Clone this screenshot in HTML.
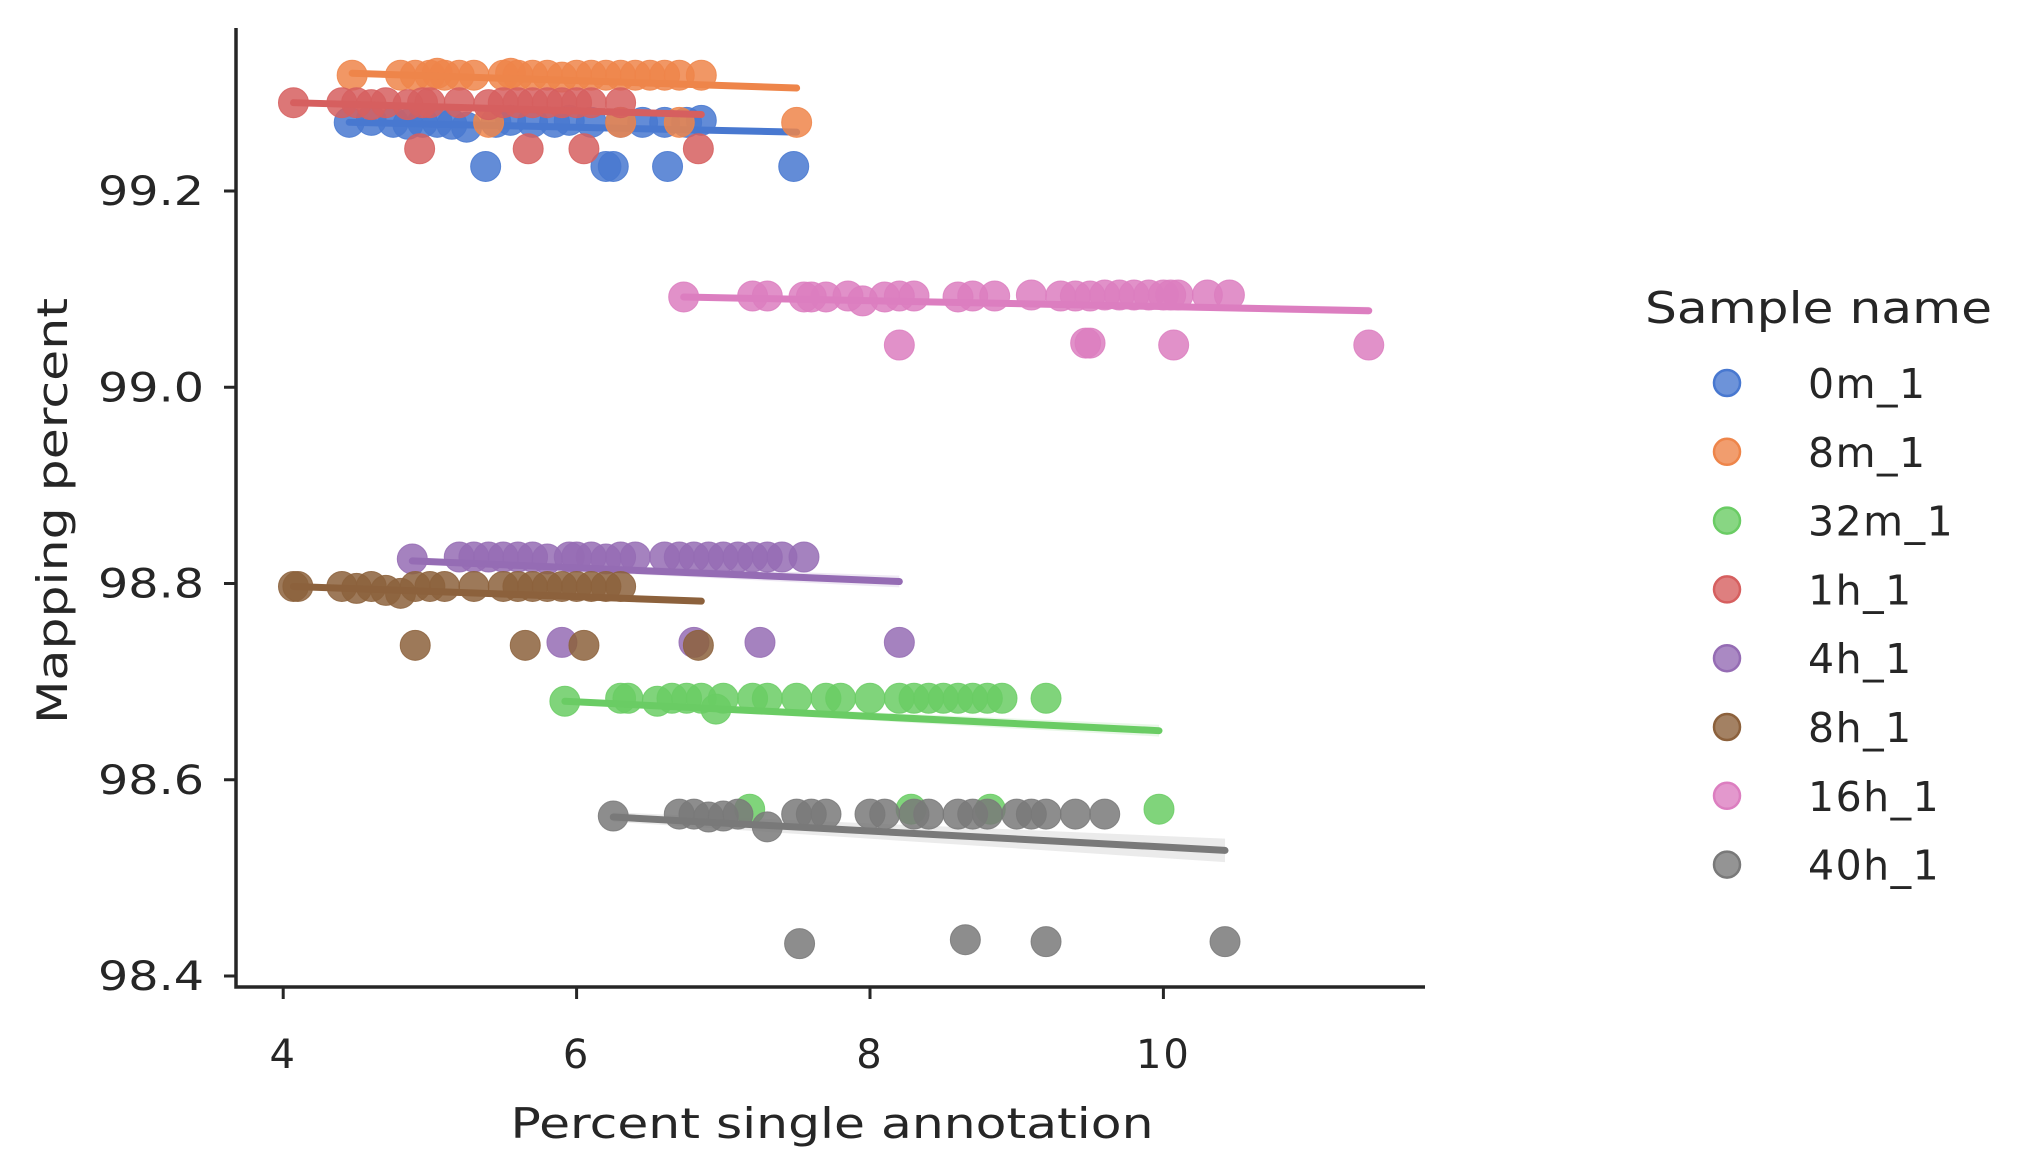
<!DOCTYPE html>
<html><head><meta charset="utf-8"><style>
html,body{margin:0;padding:0;background:#fff;}
svg{display:block;font-family:"DejaVu Sans","Liberation Sans",sans-serif;}
</style></head><body>
<svg id="chart" width="2034" height="1167" viewBox="0 0 2034 1167" xmlns="http://www.w3.org/2000/svg">
<g id="bands"></g>
<g id="marks"></g>
<g id="axes"></g>
<g id="legend"></g>
</svg>
<script>
const seriesNames = ["0m_1","8m_1","32m_1","1h_1","4h_1","8h_1","16h_1","40h_1"];
const seriesColors = ["#4878d0","#ee854a","#6acc64","#d65f5f","#956cb4","#8c613c","#dc7ec0","#797979"];
const xTicks = [4,6,8,10];
const yTicks = [98.4,98.6,98.8,99.0,99.2];
const yTickLabels = ["98.4","98.6","98.8","99.0","99.2"];

const x_0m = [4.45,4.6,4.75,4.85,4.95,5.05,5.15,5.25,5.45,5.55,5.7,5.85,5.95,6.1,6.3,6.45,6.6,6.75,6.85,5.38,6.2,6.25,6.62,7.48];
const y_0m = [99.27,99.272,99.27,99.268,99.27,99.27,99.268,99.265,99.27,99.272,99.27,99.27,99.272,99.27,99.27,99.27,99.27,99.27,99.272,99.225,99.225,99.225,99.225,99.225];
const x_8m = [4.47,4.8,4.9,5.0,5.05,5.1,5.2,5.3,5.5,5.55,5.6,5.7,5.8,5.9,6.0,6.1,6.2,6.3,6.4,6.5,6.6,6.7,6.85,5.4,6.3,6.7,7.5];
const y_8m = [99.318,99.318,99.318,99.318,99.32,99.318,99.318,99.318,99.318,99.32,99.318,99.318,99.318,99.316,99.318,99.318,99.318,99.318,99.318,99.318,99.318,99.318,99.318,99.27,99.27,99.27,99.27];
const x_32m = [5.92,6.3,6.35,6.55,6.65,6.75,6.85,7.0,7.2,7.3,7.5,7.7,7.8,8.0,8.2,8.3,8.4,8.5,8.6,8.7,8.8,8.9,9.2,6.95,7.18,8.28,8.82,9.97];
const y_32m = [98.68,98.683,98.683,98.68,98.683,98.683,98.683,98.683,98.683,98.683,98.683,98.683,98.683,98.683,98.683,98.683,98.683,98.683,98.683,98.683,98.683,98.683,98.683,98.672,98.57,98.57,98.57,98.57];
const x_1h = [4.07,4.4,4.5,4.6,4.7,4.85,4.95,5.0,5.2,5.4,5.5,5.6,5.7,5.8,5.9,6.0,6.1,6.3,4.93,5.67,6.05,6.83];
const y_1h = [99.29,99.29,99.29,99.288,99.29,99.288,99.29,99.29,99.29,99.288,99.29,99.29,99.29,99.29,99.29,99.29,99.29,99.29,99.243,99.243,99.243,99.243];
const x_4h = [4.88,5.2,5.3,5.4,5.5,5.6,5.7,5.8,5.95,6.0,6.1,6.2,6.3,6.4,6.6,6.7,6.8,6.9,7.0,7.1,7.2,7.3,7.4,7.55,5.9,6.8,7.25,8.2];
const y_4h = [98.825,98.827,98.827,98.827,98.827,98.827,98.827,98.825,98.827,98.827,98.827,98.825,98.827,98.827,98.827,98.827,98.827,98.827,98.827,98.827,98.827,98.827,98.827,98.827,98.74,98.74,98.74,98.74];
const x_8h = [4.07,4.1,4.4,4.5,4.6,4.7,4.8,4.9,5.0,5.1,5.3,5.5,5.6,5.7,5.8,5.9,6.0,6.1,6.2,6.3,4.9,5.65,6.05,6.83];
const y_8h = [98.797,98.797,98.797,98.795,98.797,98.793,98.79,98.797,98.797,98.797,98.797,98.797,98.797,98.797,98.797,98.797,98.797,98.797,98.797,98.797,98.737,98.737,98.737,98.737];
const x_16h = [6.73,7.2,7.3,7.55,7.6,7.7,7.85,8.1,8.2,8.3,8.6,8.7,8.85,9.1,9.3,9.4,9.5,9.6,9.7,9.8,9.9,10.0,10.05,10.1,10.3,10.45,7.95,8.2,9.47,9.5,10.07,11.4];
const y_16h = [99.092,99.093,99.093,99.092,99.092,99.092,99.093,99.092,99.093,99.093,99.092,99.093,99.093,99.094,99.093,99.093,99.093,99.094,99.094,99.094,99.094,99.094,99.094,99.094,99.094,99.094,99.088,99.043,99.045,99.045,99.043,99.043];
const x_40h = [6.25,6.7,6.8,6.9,7.0,7.1,7.5,7.6,7.7,8.0,8.1,8.3,8.4,8.6,8.7,8.8,9.0,9.1,9.2,9.4,9.6,7.3,7.52,8.65,9.2,10.42];
const y_40h = [98.563,98.565,98.565,98.562,98.563,98.565,98.565,98.565,98.565,98.565,98.565,98.565,98.565,98.565,98.565,98.565,98.565,98.565,98.565,98.565,98.565,98.552,98.433,98.437,98.435,98.435];
const seriesX = [x_0m,x_8m,x_32m,x_1h,x_4h,x_8h,x_16h,x_40h];
const seriesY = [y_0m,y_8m,y_32m,y_1h,y_4h,y_8h,y_16h,y_40h];
const fitX0 = [4.45,4.47,5.92,4.07,4.88,4.07,6.73,6.25];
const fitX1 = [7.5,7.5,9.97,6.85,8.2,6.85,11.4,10.42];
const fitY0 = [99.27,99.32,98.68,99.29,98.823,98.797,99.092,98.562];
const fitY1 = [99.26,99.305,98.65,99.278,98.802,98.782,99.078,98.528];
const fitCI = [0.003,0.003,0.006,0.003,0.006,0.003,0.004,0.012];

const X0 = 236, X1 = 1425, YT = 28, YB = 987;
const xs = v => 283.2 + (v - 4) * 146.7;
const ys = v => 191 + (99.2 - v) * 981.25;
const NS = "http://www.w3.org/2000/svg";
function mk(tag, parent, attrs){const e=document.createElementNS(NS,tag);for(const k in attrs)e.setAttribute(k,attrs[k]);parent.appendChild(e);return e;}

const bands = document.getElementById('bands');
const marks = document.getElementById('marks');
seriesNames.forEach((n,i)=>{
  const c = seriesColors[i];
  const g = mk('g', marks, {});
  
  
  seriesX[i].forEach((xv,j)=>{
    const p = mk('circle', g, {cx:xs(xv), cy:ys(seriesY[i][j]), r:15, fill:c, 'fill-opacity':0.85, stroke:c, 'stroke-opacity':0.85, 'stroke-width':1});
    
    
  });
  const w = fitCI[i];
  const band = mk('polygon', bands, {points:
    xs(fitX0[i])+','+ys(fitY0[i]+w*0.4)+' '+xs(fitX1[i])+','+ys(fitY1[i]+w)+' '+xs(fitX1[i])+','+ys(fitY1[i]-w)+' '+xs(fitX0[i])+','+ys(fitY0[i]-w*0.4),
    fill:c, 'fill-opacity':0.15});
  
  
  const ln = mk('line', g, {x1:xs(fitX0[i]), y1:ys(fitY0[i]), x2:xs(fitX1[i]), y2:ys(fitY1[i]), stroke:c, 'stroke-width':7, 'stroke-linecap':'round'});
  
  
});

const axes = document.getElementById('axes');
const ax = mk('path', axes, {d:'M'+X0+','+YT+' L'+X0+','+YB+' L'+X1+','+YB, fill:'none', stroke:'#262626', 'stroke-width':3.5});


xTicks.forEach(t=>{
  const x = xs(t);
  const tk = mk('line', axes, {x1:x, y1:YB, x2:x, y2:YB+12, stroke:'#262626', 'stroke-width':3});
  
  
  const tl = mk('text', axes, {x:x, y:1068, 'text-anchor':'middle', 'font-size':40, 'letter-spacing':2, fill:'#262626'});
  tl.textContent = t;
  
  
});
yTicks.forEach((t,i)=>{
  const y = ys(t);
  const tk = mk('line', axes, {x1:X0-12, y1:y, x2:X0, y2:y, stroke:'#262626', 'stroke-width':3});
  
  
  const tl = mk('text', axes, {x:204, y:y+14, 'text-anchor':'end', 'font-size':40, fill:'#262626', textLength:106, lengthAdjust:'spacingAndGlyphs'});
  tl.textContent = yTickLabels[i];
  
  
});
const xt = mk('text', axes, {x:832, y:1138, 'text-anchor':'middle', 'font-size':42, fill:'#262626', textLength:643, lengthAdjust:'spacingAndGlyphs'});
xt.textContent = 'Percent single annotation';


const yt = mk('text', axes, {x:0, y:0, 'text-anchor':'middle', 'font-size':42, fill:'#262626', transform:'translate(67,511) rotate(-90)', textLength:426, lengthAdjust:'spacingAndGlyphs'});
yt.textContent = 'Mapping percent';



const legend = document.getElementById('legend');
const lt = mk('text', legend, {x:1645, y:323, 'font-size':44, fill:'#262626', textLength:347, lengthAdjust:'spacingAndGlyphs'});
lt.textContent = 'Sample name';


seriesNames.forEach((n,i)=>{
  const y = 383 + i*68.8;
  const g = mk('g', legend, {});
  
  
  mk('circle', g, {cx:1727, cy:y, r:13, fill:seriesColors[i], 'fill-opacity':0.8, stroke:seriesColors[i], 'stroke-width':2.5});
  const t = mk('text', g, {x:1808, y:y+15, 'font-size':41, 'letter-spacing':1.5, fill:'#262626'});
  t.textContent = n;
});
</script>
</body></html>
